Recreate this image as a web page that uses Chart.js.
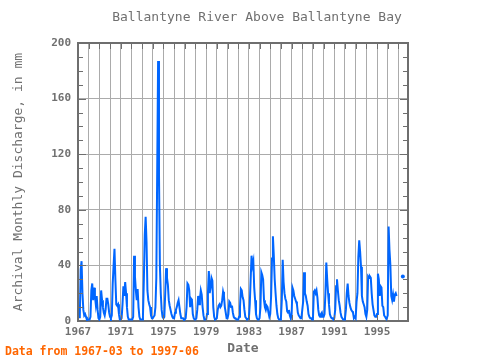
<!DOCTYPE html>
<html>
<head>
<meta charset="utf-8">
<script src="https://cdn.jsdelivr.net/npm/chart.js@4.4.1/dist/chart.umd.min.js"></script>
<style>
  html, body { margin: 0; padding: 0; background: #fff; }
</style>
</head>
<body>
<canvas id="chart" width="480" height="360"></canvas>
<script>
// Series starts 1967-03, one value per month (mm), null = no record
const firstYear = 1967;
const firstMonth = 3;
const discharge = [
  2, 37, 43, 20, 8, 4, 5, 3, 1, 1,              // 1967 (Mar-Dec)
  1, 1, 3, 22, 27, 15, 24, 18, 12, 18, 8, 2,    // 1968
  1, 3, 22, 15, 10, 6, 4, 8, 16, 16, 12, 6,     // 1969
  3, 2, 4, 27, 40, 52, 30, 12, 11, 12, 5, 1,    // 1970
  1, 2, 12, 25, 18, 28, 20, 10, 3, 1, 1, 1,     // 1971
  1, 1, 3, 47, 32, 22, 15, 23, 10, 3, 1, 1,     // 1972
  1, 4, 30, 62, 75, 57, 22, 15, 12, 10, 4, 2,   // 1973
  2, 3, 4, 10, 31, 108, 187, 106, 40, 20, 8, 3, // 1974
  2, 3, 20, 38, 31, 26, 15, 11, 8, 5, 3, 2,     // 1975
  2, 6, 8, 10, 13, 15, 10, 5, 2, 2, 2, 1,       // 1976
  1, 2, 10, 27, 26, 22, 10, 16, 15, 5, 2, 1,    // 1977
  1, 2, 8, 18, 12, 16, 22, 19, 10, 4, 1, 1,     // 1978
  1, 5, 20, 36, 20, 24, 31, 29, 10, 3, 1, 1,    // 1979
  2, 8, 11, 12, 10, 11, 15, 21, 18, 10, 6, 2,   // 1980
  2, 5, 14, 13, 10, 11, 6, 3, 2, 2, 1, 1,       // 1981
  1, 3, 10, 23, 22, 17, 15, 8, 3, 2, 1, 1,      // 1982
  2, 12, 30, 47, 40, 43, 24, 15, 5, 2, 1, 1,    // 1983
  2, 10, 35, 33, 30, 15, 10, 8, 11, 10, 6, 3,   // 1984
  5, 18, 45, 61, 47, 30, 20, 11, 5, 2, 1, 1,    // 1985
  2, 15, 44, 28, 20, 16, 14, 7, 6, 8, 4, 2,     // 1986
  4, 24, 22, 18, 16, 14, 12, 6, 4, 3, 2, 2,     // 1987
  8, 14, 35, 20, 18, 14, 11, 5, 3, 2, 2, 1,     // 1988
  2, 21, 22, 20, 22, 17, 8, 4, 3, 5, 6, 3,      // 1989
  3, 5, 20, 42, 30, 20, 12, 5, 3, 2, 2, 1,      // 1990
  2, 8, 25, 30, 22, 15, 11, 6, 3, 2, 1, 1,      // 1991
  2, 8, 20, 27, 18, 13, 10, 8, 7, 6, 2, 3,      // 1992
  2, 14, 20, 46, 58, 50, 39, 18, 14, 12, 10, 5, // 1993
  3, 8, 32, 31, 32, 31, 20, 12, 8, 4, 3, 3,     // 1994
  5, 34, 30, 18, 25, 24, 11, 10, 4, 3, 2, 2,    // 1995
  4, 68, 51, 40, 18, 15, 19, 14, 19, 20, 18, null, // 1996
  null, null, null, null, null, 32              // 1997 (Jan-Jun)
];

const yTicks = [0, 40, 80, 120, 160, 200];
const xLabelYears = [1967, 1971, 1975, 1979, 1983, 1987, 1991, 1995];

const points = discharge.map((v, i) => ({
  x: firstYear + (firstMonth - 1 + i) / 12,
  y: v
}));

const axisGray = '#6e6e6e';
const gridGray = '#ababab';
const textGray = '#707070';
const mono = '"DejaVu Sans Mono", monospace';

// inward tick marks, title and footer note
const frame = {
  id: 'frame',
  afterDraw(chart) {
    const { ctx, chartArea: a, scales } = chart;
    const x = scales.x, y = scales.y;
    ctx.save();
    ctx.strokeStyle = axisGray;
    ctx.lineWidth = 1;
    ctx.beginPath();
    for (let yr = firstYear; yr <= 1997; yr++) {
      const px = Math.round(x.getPixelForValue(yr)) + 0.5;
      ctx.moveTo(px, a.top);
      ctx.lineTo(px, a.top + 6);
    }
    xLabelYears.forEach(yr => {
      const px = Math.round(x.getPixelForValue(yr)) + 0.5;
      ctx.moveTo(px, a.bottom);
      ctx.lineTo(px, a.bottom - 6);
    });
    for (let v = 0; v <= 200; v += 10) {
      const py = Math.round(y.getPixelForValue(v)) + 0.5;
      const len = v % 40 === 0 ? 8 : 5;
      ctx.moveTo(a.left, py);
      ctx.lineTo(a.left + len, py);
      ctx.moveTo(a.right, py);
      ctx.lineTo(a.right - len, py);
    }
    ctx.stroke();

    ctx.fillStyle = textGray;
    ctx.font = '13px ' + mono;
    ctx.textAlign = 'center';
    ctx.textBaseline = 'middle';
    ctx.fillText('Ballantyne River Above Ballantyne Bay', 257, 18);

    ctx.fillStyle = '#ff6600';
    ctx.font = 'bold 11.5px ' + mono;
    ctx.textAlign = 'left';
    ctx.fillText('Data from 1967-03 to 1997-06', 5, 352);
    ctx.restore();
  }
};

new Chart(document.getElementById('chart').getContext('2d'), {
  type: 'line',
  data: {
    datasets: [{
      data: points,
      borderColor: '#0066ff',
      backgroundColor: '#0066ff',
      borderWidth: 2,
      fill: false,
      tension: 0,
      spanGaps: false,
      pointRadius: ctx => {
        const d = ctx.dataset.data;
        const i = ctx.dataIndex;
        const prev = d[i - 1], next = d[i + 1];
        const alone = d[i].y !== null && (!prev || prev.y === null) && (!next || next.y === null);
        return alone ? 2 : 0;
      },
      pointBorderWidth: 0,
      xAxisID: 'x',
      yAxisID: 'y'
    }]
  },
  options: {
    responsive: false,
    animation: false,
    devicePixelRatio: 1,
    layout: { padding: 0 },
    plugins: {
      legend: { display: false },
      tooltip: { enabled: false },
      title: { display: false }
    },
    scales: {
      x: {
        type: 'linear',
        position: 'bottom',
        min: 1967,
        max: 1997.9,
        afterFit: s => { s.height = 39; },
        afterBuildTicks: s => {
          const t = [];
          for (let yr = firstYear; yr <= 1997; yr++) t.push({ value: yr });
          s.ticks = t;
        },
        ticks: {
          autoSkip: false,
          maxRotation: 0,
          padding: 5,
          color: textGray,
          font: { family: mono, size: 11, weight: 'bold' },
          callback: v => xLabelYears.includes(v) ? String(v) : ''
        },
        grid: { color: gridGray, lineWidth: 1, drawTicks: false },
        border: { color: axisGray, width: 2 },
        title: {
          display: true,
          text: 'Date',
          color: textGray,
          font: { family: mono, size: 13, weight: 'bold' },
          padding: { top: 0, bottom: 4 }
        }
      },
      xTop: {
        type: 'linear',
        position: 'top',
        min: 1967,
        max: 1997.9,
        afterFit: s => { s.height = 43; },
        ticks: { display: false },
        grid: { display: false, drawTicks: false },
        border: { color: axisGray, width: 2 }
      },
      y: {
        min: 0,
        max: 200,
        position: 'left',
        afterFit: s => { s.width = 78; },
        afterBuildTicks: s => { s.ticks = yTicks.map(v => ({ value: v })); },
        ticks: {
          padding: 7,
          color: textGray,
          font: { family: mono, size: 11, weight: 'bold' }
        },
        grid: { color: gridGray, lineWidth: 1, drawTicks: false },
        border: { color: axisGray, width: 2 },
        title: {
          display: true,
          text: 'Archival Monthly Discharge, in mm',
          color: textGray,
          font: { family: mono, size: 13 },
          padding: { top: 11, bottom: 0 }
        }
      },
      yRight: {
        min: 0,
        max: 200,
        position: 'right',
        afterFit: s => { s.width = 72; },
        ticks: { display: false },
        grid: { display: false, drawTicks: false },
        border: { color: axisGray, width: 2 }
      }
    }
  },
  plugins: [frame]
});
</script>
</body>
</html>
